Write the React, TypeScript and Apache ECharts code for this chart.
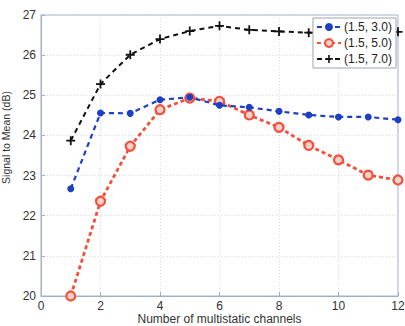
import React, { useEffect, useRef } from "react";
import * as echarts from "echarts";

// Number of multistatic channels
const channels = [1, 2, 3, 4, 5, 6, 7, 8, 9, 10, 11, 12];

// Signal to mean (dB) for each (a, b) configuration
const snr_15_30 = [22.67, 24.56, 24.55, 24.89, 24.95, 24.75, 24.70, 24.60, 24.51, 24.46, 24.46, 24.39];
const snr_15_50 = [20.0, 22.36, 23.73, 24.64, 24.93, 24.85, 24.51, 24.2, 23.75, 23.39, 23.01, 22.89];
const snr_15_70 = [23.87, 25.28, 26.01, 26.4, 26.6, 26.73, 26.63, 26.59, 26.56, 26.56, 26.56, 26.58];

const seriesNames = ["(1.5, 3.0)", "(1.5, 5.0)", "(1.5, 7.0)"];

const FONT = "'Liberation Sans', Arial, sans-serif";
const AXIS_COLOR = "#9fb0c8";
const PLUS = "path://M4,0H6V4H10V6H6V10H4V6H0V4H4Z";

function pairs(ys: number[]) {
  return channels.map((x, i) => [x, ys[i]]);
}

export default function App() {
  const ref = useRef<HTMLDivElement>(null);

  useEffect(() => {
    if (!ref.current) return;
    const chart = echarts.init(ref.current, undefined, { renderer: "svg" });
    chart.setOption({
      animation: false,
      backgroundColor: "#ffffff",
      grid: {
        left: 41,
        right: 7,
        top: 15,
        bottom: 30,
        outerBoundsMode: "none",
        containLabel: false,
        show: true,
        borderColor: AXIS_COLOR,
        borderWidth: 1,
      },
      legend: {
        orient: "vertical",
        right: 9,
        top: 18,
        itemWidth: 24,
        itemHeight: 10,
        itemGap: 4,
        padding: [3, 4, 3, 3],
        backgroundColor: "#ffffff",
        borderColor: "#9aa4b0",
        borderWidth: 1,
        borderRadius: 0,
        textStyle: { fontFamily: FONT, fontSize: 12, color: "#222", padding: [0, 0, 0, -2] },
        data: seriesNames,
      },
      xAxis: {
        type: "value",
        min: 0,
        max: 12,
        interval: 2,
        name: "Number of multistatic channels",
        nameLocation: "middle",
        nameGap: 17,
        nameMoveOverlap: false,
        nameTextStyle: { fontFamily: FONT, fontSize: 12, lineHeight: 12, color: "#333" },
        axisLine: { lineStyle: { color: AXIS_COLOR } },
        axisTick: { inside: true, length: 4, lineStyle: { color: AXIS_COLOR } },
        axisLabel: { fontFamily: FONT, fontSize: 12, lineHeight: 12, color: "#333", margin: 4 },
        splitLine: { show: true, lineStyle: { color: "#d4dbe6", type: [1, 2] } },
      },
      yAxis: {
        type: "value",
        min: 20,
        max: 27,
        interval: 1,
        name: "Signal to Mean (dB)",
        nameLocation: "middle",
        nameGap: 24,
        nameTextStyle: {
          fontFamily: FONT,
          fontSize: 10.5,
          color: "#333",
          padding: [0, 0, 0, 36],
        },
        axisLine: { show: true, lineStyle: { color: AXIS_COLOR } },
        axisTick: { show: true, inside: true, length: 4, lineStyle: { color: AXIS_COLOR } },
        axisLabel: { fontFamily: FONT, fontSize: 12, color: "#333", margin: 5 },
        splitLine: { show: true, lineStyle: { color: "#d4dbe6", type: [1, 2] } },
      },
      series: [
        {
          name: seriesNames[0],
          type: "line",
          data: pairs(snr_15_30),
          symbol: "circle",
          symbolSize: 7,
          lineStyle: { color: "#1d3fc4", width: 2.2, type: [5, 4] },
          itemStyle: { color: "#1d3fc4" },
          z: 3,
        },
        {
          name: seriesNames[1],
          type: "line",
          data: pairs(snr_15_50),
          symbol: "circle",
          symbolSize: 9,
          lineStyle: { color: "#f0503c", width: 2.8, type: [4, 3] },
          itemStyle: { color: "#fbd0c8", borderColor: "#f0503c", borderWidth: 2.2 },
          z: 2,
        },
        {
          name: seriesNames[2],
          type: "line",
          data: pairs(snr_15_70),
          symbol: PLUS,
          symbolSize: 9,
          lineStyle: { color: "#111", width: 2, type: [5, 4] },
          itemStyle: { color: "#111" },
          z: 1,
        },
      ],
    });
    return () => chart.dispose();
  }, []);

  return (
    <div
      ref={ref}
      style={{ position: "fixed", left: 0, top: 0, width: 405, height: 326 }}
    />
  );
}
